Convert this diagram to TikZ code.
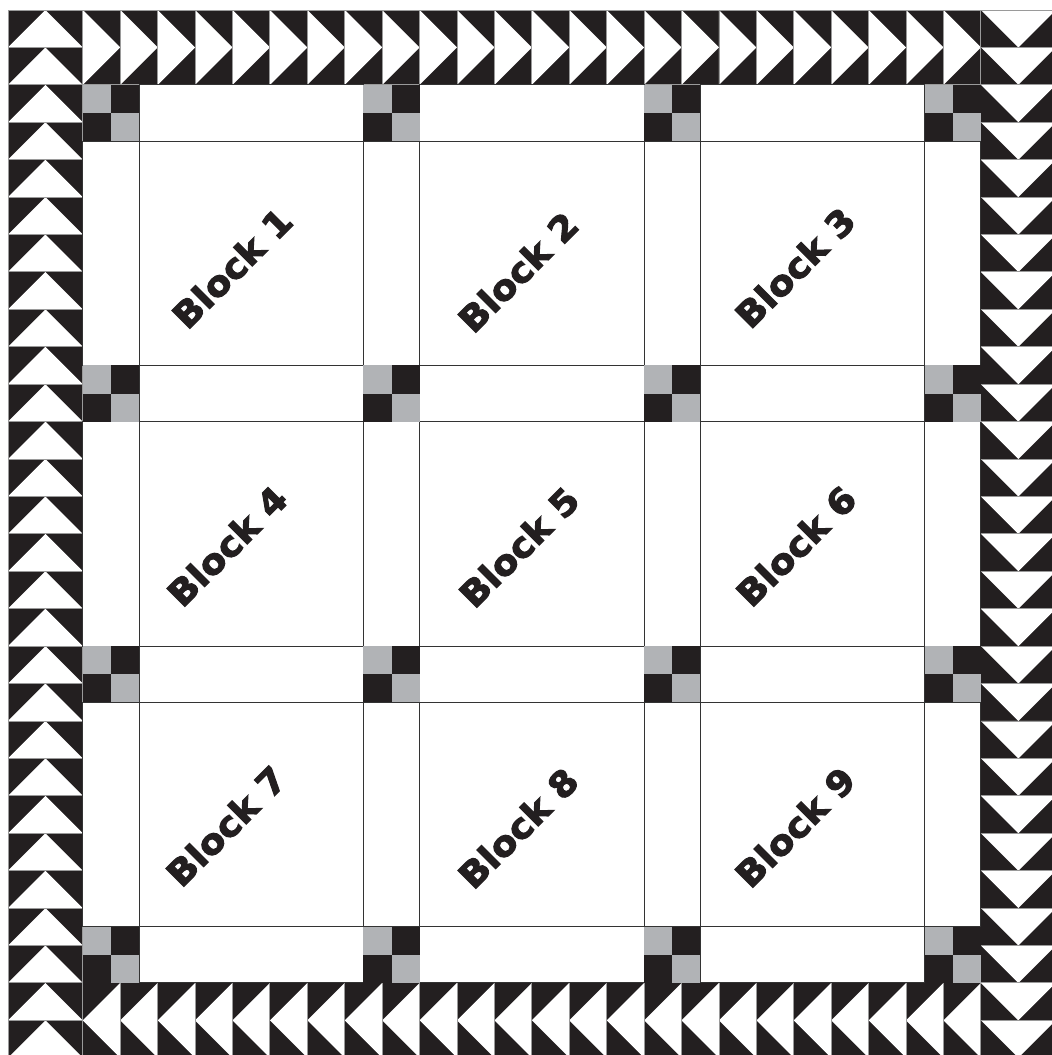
\documentclass[tikz,border=0pt]{standalone}
\usepackage{fontspec}
\newfontfamily\blockfont{DejaVu Sans}[BoldFont={DejaVu Sans Bold},BoldFeatures={FakeBold=3,FakeStretch=1.06}]
\definecolor{qblack}{HTML}{231F20}
\definecolor{qgray}{HTML}{B1B3B6}
\definecolor{qline}{HTML}{9A9A9A}
\definecolor{qedge}{HTML}{333333}
\tikzset{
  gooseline/.style={draw=qline,line width=0.9pt},
  edgeline/.style={draw=qedge,line width=0.9pt},
  blocklabel/.style={rotate=45,inner sep=0pt,text=qblack,
    font=\blockfont\bfseries\fontsize{35}{42}\selectfont}
}
\begin{document}
\begin{tikzpicture}[x=1pt,y=-1pt]
\clip (0,0) rectangle (1052,1055);
\fill[white] (0,0) rectangle (1052,1055);
\begin{scope}[shift={(8,10)},x=18.71pt,y=-18.71pt]
  \fill[white] (4,4) rectangle (52,52);
  % left and right columns
  \foreach \k in {0,...,27} {
    \fill[qblack] (0,2*\k) rectangle (4,2*\k+2);
    \fill[white] (0,2*\k+2) -- (4,2*\k+2) -- (2,2*\k) -- cycle;
    \draw[gooseline] (0,2*\k) rectangle (4,2*\k+2);
    \fill[qblack] (52,2*\k) rectangle (56,2*\k+2);
    \fill[white] (52,2*\k) -- (56,2*\k) -- (54,2*\k+2) -- cycle;
    \draw[gooseline] (52,2*\k) rectangle (56,2*\k+2);
  }
  % top and bottom rows
  \foreach \k in {0,...,23} {
    \fill[qblack] (4+2*\k,0) rectangle (6+2*\k,4);
    \fill[white] (4+2*\k,0) -- (4+2*\k,4) -- (6+2*\k,2) -- cycle;
    \draw[gooseline] (4+2*\k,0) rectangle (6+2*\k,4);
    \fill[qblack] (4+2*\k,52) rectangle (6+2*\k,56);
    \fill[white] (6+2*\k,52) -- (6+2*\k,56) -- (4+2*\k,54) -- cycle;
    \draw[gooseline] (4+2*\k,52) rectangle (6+2*\k,56);
  }
  % sashing and blocks
  \foreach \i in {0,1,2} {
    \foreach \j in {0,1,2,3} {
      \draw[edgeline] (7+15*\i,4+15*\j) rectangle (19+15*\i,7+15*\j);
      \draw[edgeline] (4+15*\j,7+15*\i) rectangle (7+15*\j,19+15*\i);
    }
    \foreach \j in {0,1,2} {
      \draw[edgeline] (7+15*\i,7+15*\j) rectangle (19+15*\i,19+15*\j);
    }
  }
  % four-patches
  \foreach \i in {0,1,2,3} {
    \foreach \j in {0,1,2,3} {
      \fill[qgray] (4+15*\i,4+15*\j) rectangle (5.5+15*\i,5.5+15*\j);
      \fill[qblack] (5.5+15*\i,4+15*\j) rectangle (7+15*\i,5.5+15*\j);
      \fill[qblack] (4+15*\i,5.5+15*\j) rectangle (5.5+15*\i,7+15*\j);
      \fill[qgray] (5.5+15*\i,5.5+15*\j) rectangle (7+15*\i,7+15*\j);
    }
  }
\end{scope}
\node[blocklabel] (t1) at (232,268) {Block 1};
\node[blocklabel] (t2) at (518,272) {Block 2};
\node[blocklabel] (t3) at (795,267.5) {Block 3};
\node[blocklabel] (t4) at (227,546) {Block 4};
\node[blocklabel] (t5) at (519,547) {Block 5};
\node[blocklabel] (t6) at (796,546) {Block 6};
\node[blocklabel] (t7) at (226,826) {Block 7};
\node[blocklabel] (t8) at (518,828) {Block 8};
\node[blocklabel] (t9) at (795,827) {Block 9};
\end{tikzpicture}
\end{document}
